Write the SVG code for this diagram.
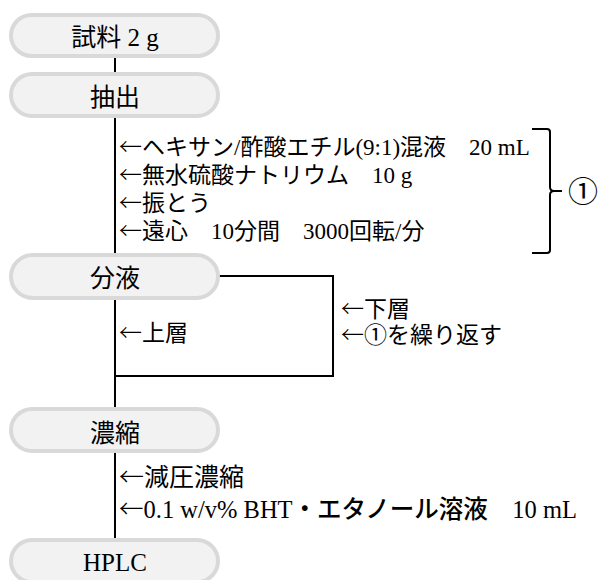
<svg xmlns="http://www.w3.org/2000/svg" width="602" height="580" viewBox="0 0 602 580">
<style>
.pill{fill:#f2f2f2;stroke:#d9d9d9;stroke-width:4}
.lbl{font-family:"Liberation Serif","Noto Sans CJK JP",serif;font-size:25px;fill:#000;text-anchor:middle}
.t{font-family:"Liberation Serif","Noto Sans CJK JP",serif;font-size:23px;fill:#000}
.big{font-size:25px}
.ar{font-family:"Noto Sans CJK JP",sans-serif;font-weight:300}
.ln{fill:none;stroke:#000;stroke-width:2}
</style>
<rect width="602" height="580" fill="#fff"/>
<g id="connectors">
<path class="ln" d="M115,58V73"/>
<path class="ln" d="M115,118V254"/>
<path class="ln" d="M115,299V408"/>
<path class="ln" d="M219,276H333V376H115"/>
<path class="ln" d="M115,452V539"/>
<path class="ln" d="M532,129H547Q550,129 550,132V187Q550,191 554,191H562M554,191Q550,191 550,195V250Q550,253 547,253H532"/>
</g>
<g id="n1"><rect class="pill" x="11" y="15" width="207" height="41" rx="20.5"/><text class="lbl" x="115" y="46">試料 2 g</text></g>
<g id="n2"><rect class="pill" x="11" y="74" width="207" height="42" rx="21"/><text class="lbl" x="115" y="106">抽出</text></g>
<g id="n3"><rect class="pill" x="11" y="255" width="207" height="43" rx="21.5"/><text class="lbl" x="115" y="287">分液</text></g>
<g id="n4"><rect class="pill" x="11" y="409" width="207" height="42" rx="21"/><text class="lbl" x="115" y="442">濃縮</text></g>
<g id="n5"><rect class="pill" x="11" y="540" width="207" height="42" rx="21"/><text class="lbl" x="115" y="571">HPLC</text></g>
<g id="labels">
<text class="t" x="119" y="155"><tspan class="ar">←</tspan>ヘキサン/酢酸エチル(9:1)混液　20 mL</text>
<text class="t" x="119" y="183"><tspan class="ar">←</tspan>無水硫酸ナトリウム　10 g</text>
<text class="t" x="119" y="211"><tspan class="ar">←</tspan>振とう</text>
<text class="t" x="119" y="239"><tspan class="ar">←</tspan>遠心　10分間　3000回転/分</text>
<text class="t" x="568" y="202" style="font-size:30px">①</text>
<text class="t" x="119" y="341"><tspan class="ar">←</tspan>上層</text>
<text class="t" x="341" y="317"><tspan class="ar">←</tspan>下層</text>
<text class="t" x="341" y="343"><tspan class="ar">←</tspan>①を繰り返す</text>
<text class="t big" x="119" y="486"><tspan class="ar">←</tspan>減圧濃縮</text>
<text class="t" x="119" y="518" style="font-size:24.5px"><tspan class="ar">←</tspan>0.1 w/v% BHT<tspan font-weight="500">・エタノール溶液</tspan>　10 mL</text>
</g>
</svg>
